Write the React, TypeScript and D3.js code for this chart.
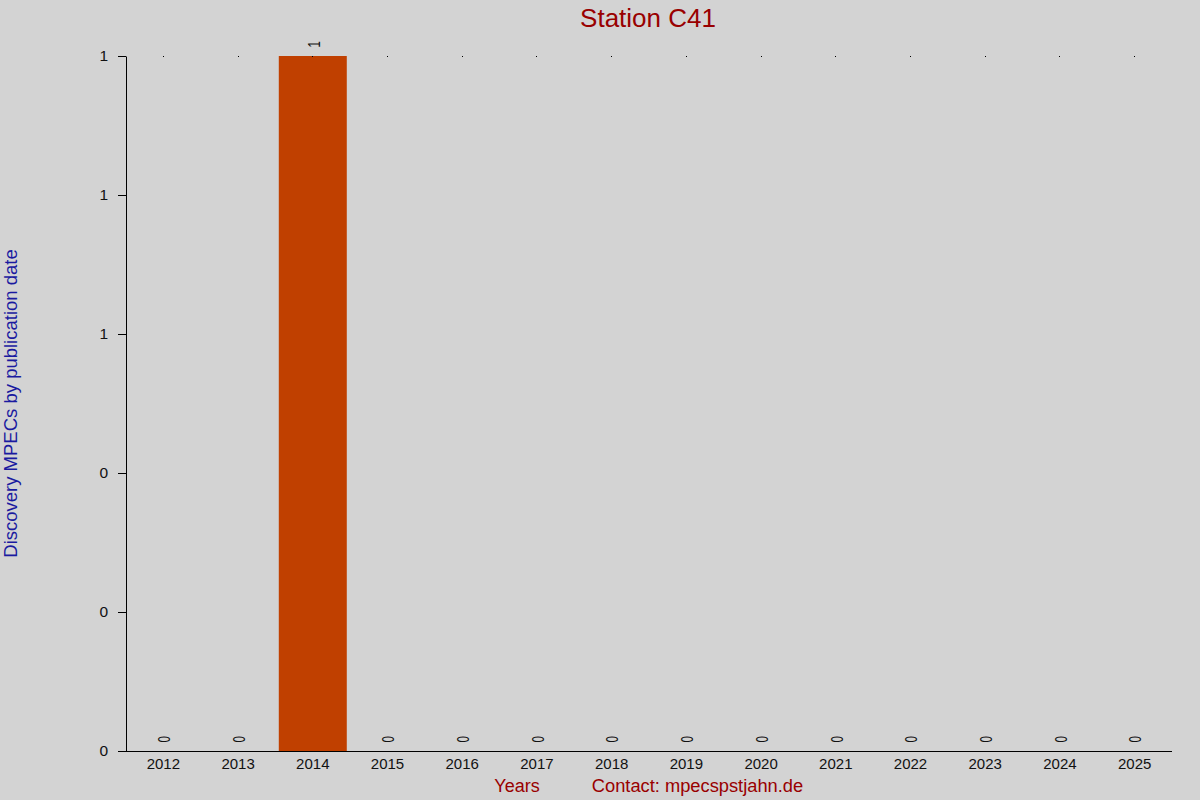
import { useEffect, useRef } from 'react';
import * as d3 from 'd3';

const years = ['2012', '2013', '2014', '2015', '2016', '2017', '2018', '2019', '2020', '2021', '2022', '2023', '2024', '2025'];
const discoveries = [0, 0, 1, 0, 0, 0, 0, 0, 0, 0, 0, 0, 0, 0];
const yTicks = [0, 0.2, 0.4, 0.6, 0.8, 1];

const FONT = '"Liberation Sans", Arial, Helvetica, sans-serif';

export default function App() {
  const svgRef = useRef<SVGSVGElement>(null);

  useEffect(() => {
    document.body.style.margin = '0';
    if (!svgRef.current) return;

    const width = 1200;
    const height = 800;
    const margin = { top: 56, right: 28, bottom: 49, left: 126 };

    const svg = d3.select(svgRef.current);
    svg.selectAll('*').remove();
    svg.attr('width', width).attr('height', height);

    svg.append('rect').attr('width', width).attr('height', height).attr('fill', '#d3d3d3');

    const x = d3
      .scaleBand<string>()
      .domain(years)
      .range([margin.left, width - margin.right])
      .paddingInner(0.09)
      .paddingOuter(0.045);

    const y = d3
      .scaleLinear()
      .domain([0, 1])
      .range([height - margin.bottom, margin.top]);

    // Bars
    svg
      .append('g')
      .selectAll('rect')
      .data(discoveries)
      .join('rect')
      .attr('x', (_, i) => x(years[i])!)
      .attr('y', (d) => y(d))
      .attr('width', x.bandwidth())
      .attr('height', (d) => y(0) - y(d))
      .attr('fill', '#c04000');

    // Small marks at the top of each column
    svg
      .append('g')
      .selectAll('rect')
      .data(years)
      .join('rect')
      .attr('x', (d) => Math.floor(x(d)! + x.bandwidth() / 2))
      .attr('y', Math.round(y(1)))
      .attr('width', 1)
      .attr('height', 1)
      .attr('fill', '#000');

    // Value labels, rotated and slightly condensed
    svg
      .append('g')
      .selectAll('text')
      .data(discoveries)
      .join('text')
      .attr('transform', (d, i) => `translate(${x(years[i])! + x.bandwidth() / 2 + 1},${y(d) - 8.5}) rotate(-90) scale(0.7,1)`)
      .attr('dominant-baseline', 'central')
      .attr('font-family', FONT)
      .attr('font-size', 16.5)
      .attr('fill', '#111')
      .text((d) => d3.format('.0f')(d));

    // Y axis
    const yAxis = svg
      .append('g')
      .attr('transform', `translate(${margin.left},0)`)
      .call(
        d3
          .axisLeft(y)
          .tickValues(yTicks)
          .tickSize(8)
          .tickSizeOuter(0)
          .tickPadding(10)
          .tickFormat((d) => d3.format('.0f')(d as number))
      );
    yAxis.select('.domain').attr('stroke', '#000');
    yAxis.selectAll('line').attr('stroke', '#000');
    yAxis.selectAll('text').attr('font-family', FONT).attr('font-size', 15.5).attr('fill', '#111');

    // X axis
    const xAxis = svg
      .append('g')
      .attr('transform', `translate(0,${height - margin.bottom})`)
      .call(d3.axisBottom(x).tickSize(0).tickSizeOuter(0).tickPadding(7));
    xAxis.select('.domain').remove();
    xAxis.selectAll('text').attr('font-family', FONT).attr('font-size', 15).attr('fill', '#111');
    svg
      .append('line')
      .attr('x1', margin.left - 8)
      .attr('x2', width - margin.right)
      .attr('y1', y(0) + 0.5)
      .attr('y2', y(0) + 0.5)
      .attr('stroke', '#000');

    // Title
    svg
      .append('text')
      .attr('x', 648)
      .attr('y', 27)
      .attr('text-anchor', 'middle')
      .attr('font-family', FONT)
      .attr('font-size', 26)
      .attr('fill', '#990000')
      .text('Station C41');

    // Y title
    svg
      .append('text')
      .attr('transform', `translate(17,${(y(0) + y(1)) / 2}) rotate(-90)`)
      .attr('text-anchor', 'middle')
      .attr('font-family', FONT)
      .attr('font-size', 18.5)
      .attr('fill', '#1a1aa0')
      .text('Discovery MPECs by publication date');

    // X title and contact
    svg
      .append('text')
      .attr('x', 517)
      .attr('y', 792)
      .attr('text-anchor', 'middle')
      .attr('font-family', FONT)
      .attr('font-size', 18)
      .attr('fill', '#990000')
      .text('Years');

    svg
      .append('text')
      .attr('x', 697.5)
      .attr('y', 792)
      .attr('text-anchor', 'middle')
      .attr('font-family', FONT)
      .attr('font-size', 18.3)
      .attr('fill', '#990000')
      .text('Contact: mpecspstjahn.de');
  }, []);

  return <svg ref={svgRef} style={{ display: 'block' }} />;
}
